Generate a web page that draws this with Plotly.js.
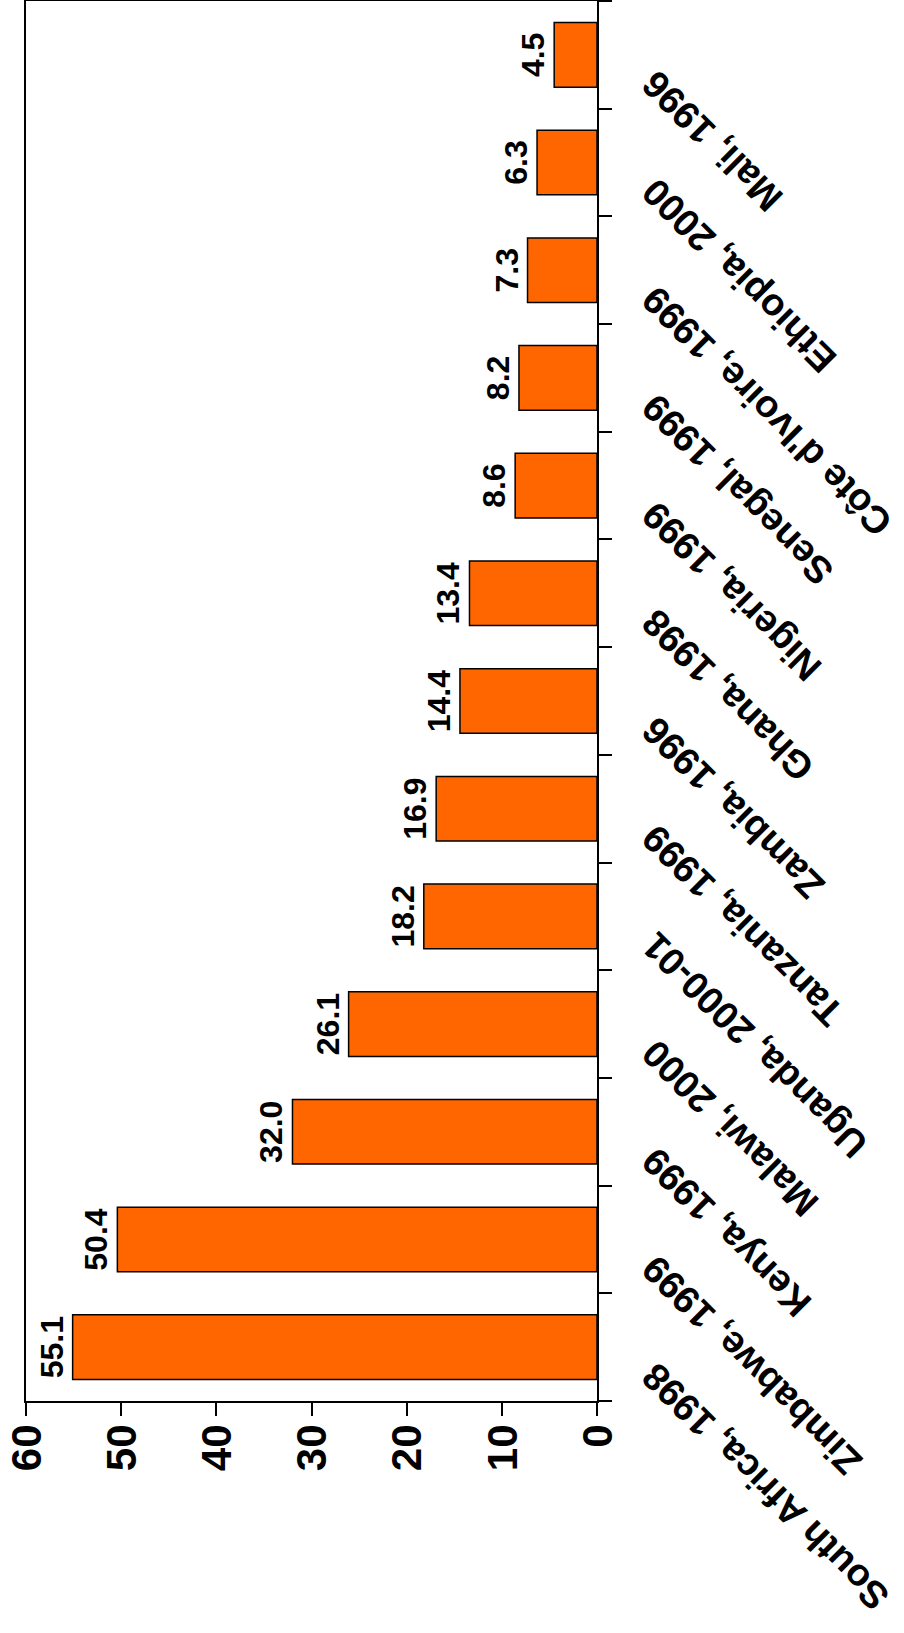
<!DOCTYPE html>
<html>
<head>
<meta charset="utf-8">
<script src="https://cdn.plot.ly/plotly-3.0.1.min.js"></script>
<style>
html, body { margin: 0; padding: 0; background: #ffffff; overflow: hidden; }
#page { position: relative; width: 904px; height: 1633px; overflow: hidden; }
#chart {
  position: absolute; left: 0; top: 0;
  width: 1633px; height: 904px;
  transform-origin: 0 0;
  transform: translateY(1633px) rotate(-90deg);
}
</style>
</head>
<body>
<div id="page"><div id="chart"></div></div>
<script>
var categories = [
  "South Africa, 1998",
  "Zimbabwe, 1999",
  "Kenya, 1999",
  "Malawi, 2000",
  "Uganda, 2000-01",
  "Tanzania, 1999",
  "Zambia, 1996",
  "Ghana, 1998",
  "Nigeria, 1999",
  "Senegal, 1999",
  "Côte d'Ivoire, 1999",
  "Ethiopia, 2000",
  "Mali, 1996"
];
var values = [55.1, 50.4, 32.0, 26.1, 18.2, 16.9, 14.4, 13.4, 8.6, 8.2, 7.3, 6.3, 4.5];
var valueTicks = [0, 10, 20, 30, 40, 50, 60];

var fontFamily = "Arial, 'Liberation Sans', Helvetica, sans-serif";

var trace = {
  type: "bar",
  x: categories,
  y: values,
  marker: { color: "#FF6600", line: { color: "#000000", width: 1.5 } },
  texttemplate: "%{y:.1f}",
  textposition: "outside",
  textangle: 0,
  constraintext: "none",
  cliponaxis: false,
  textfont: { family: fontFamily, size: 32, color: "#000000", weight: "bold" },
  hoverinfo: "none"
};

var layout = {
  width: 1633,
  height: 904,
  margin: { l: 232, r: 1, t: 26, b: 307 },
  paper_bgcolor: "#ffffff",
  plot_bgcolor: "#ffffff",
  showlegend: false,
  bargap: 0.4,
  xaxis: {
    type: "category",
    categoryorder: "array",
    categoryarray: categories,
    ticks: "outside",
    tickson: "boundaries",
    ticklen: 13,
    tickwidth: 2,
    tickcolor: "#000000",
    showline: true,
    linewidth: 2,
    linecolor: "#000000",
    mirror: true,
    showgrid: false,
    zeroline: false,
    tickangle: -45,
    ticklabelstandoff: 19,
    ticklabelshift: -27,
    tickfont: { family: fontFamily, size: 38, color: "#000000", weight: "bold" }
  },
  yaxis: {
    range: [0, 60],
    tickvals: valueTicks,
    ticktext: valueTicks.map(String),
    ticks: "outside",
    ticklen: 13,
    tickwidth: 2,
    tickcolor: "#000000",
    showline: true,
    linewidth: 2,
    linecolor: "#000000",
    mirror: true,
    showgrid: false,
    zeroline: false,
    ticklabelstandoff: 0,
    tickfont: { family: fontFamily, size: 42, color: "#000000", weight: "bold" }
  }
};

Plotly.newPlot("chart", [trace], layout, { displayModeBar: false, staticPlot: true });
</script>
</body>
</html>
